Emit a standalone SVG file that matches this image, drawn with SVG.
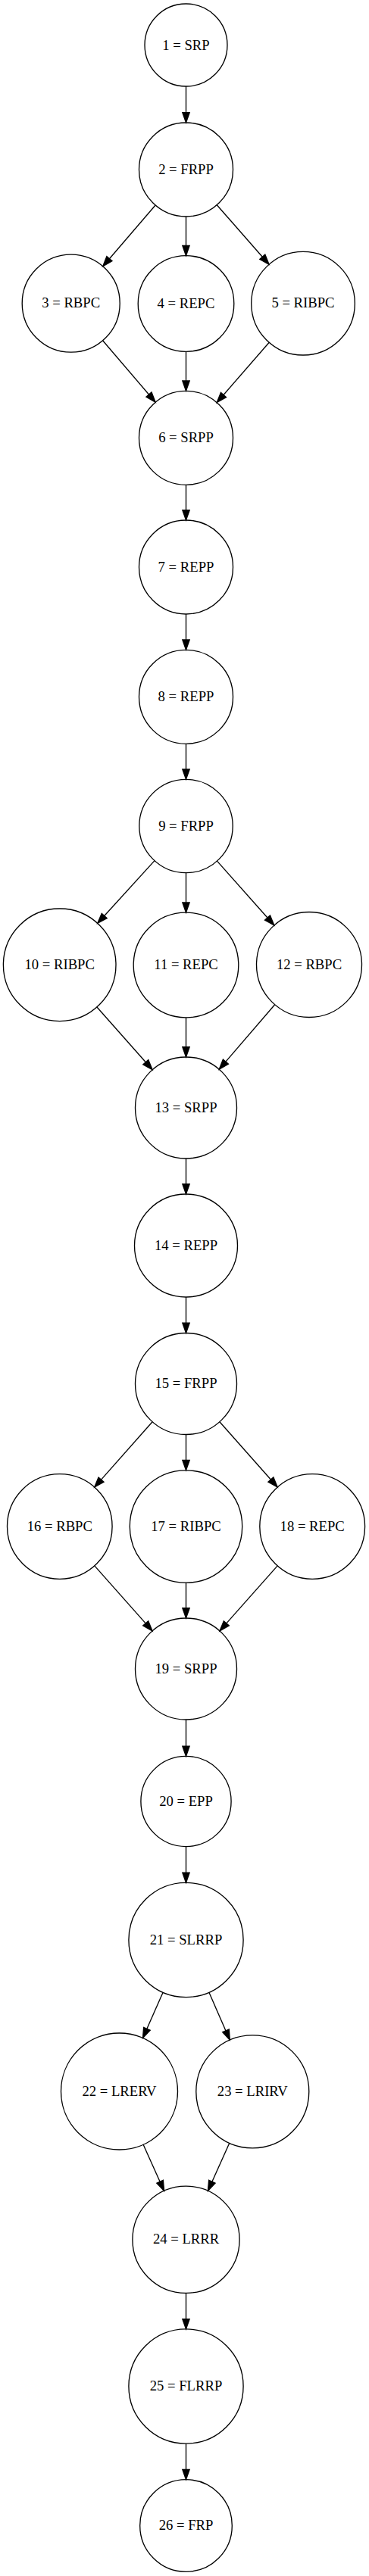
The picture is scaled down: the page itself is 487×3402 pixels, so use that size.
<svg xmlns="http://www.w3.org/2000/svg" width="487" height="3402" viewBox="0 0 487 3402">
<style>
.n circle{fill:none;stroke:#000;stroke-width:1.33}
.n text{font-family:"Liberation Serif","Times New Roman",serif;font-size:18.67px;text-anchor:middle;fill:#000}
.e line{stroke:#000;stroke-width:1.33;marker-end:url(#arr)}
</style>
<defs>
<marker id="arr" markerUnits="userSpaceOnUse" markerWidth="16" markerHeight="12" refX="0" refY="4.67" orient="auto" overflow="visible">
<path d="M0,0 L13.33,4.67 L0,9.33 Z" fill="#000" stroke="#000" stroke-width="1.33"/>
</marker>
</defs>
<rect width="487" height="3402" fill="#fff"/>
<g id="edges" class="e">
<line x1="245.5" y1="114" x2="245.5" y2="148.7"/>
<line x1="205.1" y1="271.0" x2="144.4" y2="341.7"/>
<line x1="245.5" y1="286" x2="245.5" y2="324.4"/>
<line x1="286.3" y1="270.7" x2="346.3" y2="339.2"/>
<line x1="135.6" y1="449.7" x2="196.5" y2="521.0"/>
<line x1="245.5" y1="464.3" x2="245.5" y2="503"/>
<line x1="355.2" y1="452.2" x2="295.0" y2="521.5"/>
<line x1="245.5" y1="640.3" x2="245.5" y2="673.7"/>
<line x1="245.5" y1="811" x2="245.5" y2="845"/>
<line x1="245.5" y1="982.3" x2="245.5" y2="1016"/>
<line x1="204.0" y1="1136.6" x2="137.7" y2="1209.5"/>
<line x1="245.5" y1="1152.7" x2="245.5" y2="1191.9"/>
<line x1="286.5" y1="1137.1" x2="353.0" y2="1212.0"/>
<line x1="127.9" y1="1330.0" x2="192.3" y2="1402.8"/>
<line x1="245.5" y1="1343.8" x2="245.5" y2="1382.7"/>
<line x1="362.7" y1="1326.7" x2="297.9" y2="1402.1"/>
<line x1="245.5" y1="1530" x2="245.5" y2="1563.7"/>
<line x1="245.5" y1="1713" x2="245.5" y2="1747.2"/>
<line x1="201.1" y1="1877.7" x2="133.5" y2="1954.1"/>
<line x1="245.5" y1="1894.5" x2="245.5" y2="1928.5"/>
<line x1="289.9" y1="1877.7" x2="357.4" y2="1954.0"/>
<line x1="124.8" y1="2067.9" x2="192.2" y2="2143.9"/>
<line x1="245.5" y1="2090.2" x2="245.5" y2="2123.7"/>
<line x1="366.2" y1="2067.9" x2="298.8" y2="2143.9"/>
<line x1="245.5" y1="2271" x2="245.5" y2="2306.1"/>
<line x1="245.5" y1="2438.6" x2="245.5" y2="2473.1"/>
<line x1="215.1" y1="2631.2" x2="193.9" y2="2679.3"/>
<line x1="275.9" y1="2631.2" x2="298.0" y2="2681.9"/>
<line x1="189.1" y1="2832.2" x2="211.1" y2="2881.2"/>
<line x1="302.8" y1="2830.3" x2="279.9" y2="2881.2"/>
<line x1="245.5" y1="3028.4" x2="245.5" y2="3062.6"/>
<line x1="245.5" y1="3227.1" x2="245.5" y2="3261.4"/>
</g>
<g id="n1" class="n"><circle cx="245.5" cy="59.5" r="54.5"/><text x="245.5" y="65.5">1 = SRP</text></g>
<g id="n2" class="n"><circle cx="245.5" cy="224" r="62"/><text x="245.5" y="229.5">2 = FRPP</text></g>
<g id="n3" class="n"><circle cx="93.7" cy="400.7" r="64.5"/><text x="93.7" y="406.2">3 = RBPC</text></g>
<g id="n4" class="n"><circle cx="245.5" cy="401" r="63.3"/><text x="245.5" y="406.5">4 = REPC</text></g>
<g id="n5" class="n"><circle cx="400" cy="400.7" r="68.3"/><text x="400" y="406.2">5 = RIBPC</text></g>
<g id="n6" class="n"><circle cx="245.5" cy="578.3" r="62"/><text x="245.5" y="583.8">6 = SRPP</text></g>
<g id="n7" class="n"><circle cx="245.5" cy="749" r="62"/><text x="245.5" y="754.5">7 = REPP</text></g>
<g id="n8" class="n"><circle cx="245.5" cy="920.3" r="62"/><text x="245.5" y="925.8">8 = REPP</text></g>
<g id="n9" class="n"><circle cx="245.5" cy="1091" r="61.7"/><text x="245.5" y="1096.5">9 = FRPP</text></g>
<g id="n10" class="n"><circle cx="78.7" cy="1274.3" r="74.3"/><text x="78.7" y="1279.8">10 = RIBPC</text></g>
<g id="n11" class="n"><circle cx="245.5" cy="1274.5" r="69.3"/><text x="245.5" y="1280">11 = REPC</text></g>
<g id="n12" class="n"><circle cx="408" cy="1274" r="69.5"/><text x="408" y="1279.5">12 = RBPC</text></g>
<g id="n13" class="n"><circle cx="245.5" cy="1463" r="67"/><text x="245.5" y="1468.5">13 = SRPP</text></g>
<g id="n14" class="n"><circle cx="245.5" cy="1645" r="68"/><text x="245.5" y="1650.5">14 = REPP</text></g>
<g id="n15" class="n"><circle cx="245.5" cy="1827.5" r="67"/><text x="245.5" y="1833">15 = FRPP</text></g>
<g id="n16" class="n"><circle cx="78.8" cy="2016" r="69.3"/><text x="78.8" y="2021.5">16 = RBPC</text></g>
<g id="n17" class="n"><circle cx="245.5" cy="2016" r="74.2"/><text x="245.5" y="2021.5">17 = RIBPC</text></g>
<g id="n18" class="n"><circle cx="412.2" cy="2016" r="69.4"/><text x="412.2" y="2021.5">18 = REPC</text></g>
<g id="n19" class="n"><circle cx="245.5" cy="2204" r="67"/><text x="245.5" y="2209.5">19 = SRPP</text></g>
<g id="n20" class="n"><circle cx="245.5" cy="2379" r="59.6"/><text x="245.5" y="2384.5">20 = EPP</text></g>
<g id="n21" class="n"><circle cx="245.5" cy="2562" r="75.6"/><text x="245.5" y="2567.5">21 = SLRRP</text></g>
<g id="n22" class="n"><circle cx="157.5" cy="2762" r="77"/><text x="157.5" y="2767.5">22 = LRERV</text></g>
<g id="n23" class="n"><circle cx="333.3" cy="2762.3" r="74.5"/><text x="333.3" y="2767.8">23 = LRIRV</text></g>
<g id="n24" class="n"><circle cx="245.5" cy="2957.8" r="70.6"/><text x="245.5" y="2963.3">24 = LRRR</text></g>
<g id="n25" class="n"><circle cx="245.5" cy="3151.5" r="75.6"/><text x="245.5" y="3157">25 = FLRRP</text></g>
<g id="n26" class="n"><circle cx="245.5" cy="3335.5" r="60.8"/><text x="245.5" y="3341">26 = FRP</text></g>
</svg>
